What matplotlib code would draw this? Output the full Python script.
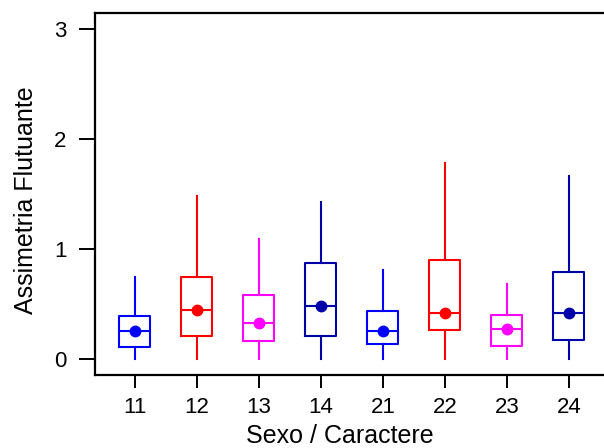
import matplotlib.pyplot as plt
import numpy as np

plt.rcParams['font.family'] = ['Liberation Sans', 'DejaVu Sans']

# grupos (sexo / caractere) e estatisticas
grupos = ['11', '12', '13', '14', '21', '22', '23', '24']
w_low = [0.0, 0.0, 0.0, 0.0, 0.0, 0.0, 0.0, 0.0]
q1 = [0.106, 0.212, 0.164, 0.212, 0.136, 0.267, 0.118, 0.176]
mediana = [0.255, 0.449, 0.330, 0.479, 0.255, 0.418, 0.270, 0.418]
q3 = [0.394, 0.745, 0.582, 0.876, 0.433, 0.897, 0.403, 0.788]
w_high = [0.750, 1.485, 1.088, 1.424, 0.806, 1.779, 0.685, 1.667]
media = [0.255, 0.449, 0.330, 0.479, 0.255, 0.418, 0.270, 0.418]
cores = ['#0000FF', '#FF0000', '#FF00FF', '#0000AA',
         '#0000FF', '#FF0000', '#FF00FF', '#0000AA']

fig = plt.figure(figsize=(6.04, 4.48), dpi=100)
ax = fig.add_axes([95 / 604, 1 - 375 / 448, 1 - 95 / 604, (375 - 13) / 448])

stats = []
for i, g in enumerate(grupos):
    stats.append({'label': g, 'whislo': w_low[i], 'q1': q1[i], 'med': mediana[i],
                  'q3': q3[i], 'whishi': w_high[i], 'fliers': []})

pos = np.arange(1, len(grupos) + 1)
for i, s in enumerate(stats):
    c = cores[i]
    ax.bxp([s], positions=[pos[i]], widths=0.5, showcaps=False,
           boxprops=dict(color=c, linewidth=1.5),
           medianprops=dict(color=c, linewidth=1.5),
           whiskerprops=dict(color=c, linewidth=1.5))
    ax.plot(pos[i], media[i], 'o', color=c, markersize=7.5, zorder=5)

ax.set_xlim(0.355, 8.565)
ax.set_ylim(-0.145, 3.145)
ax.set_xticks(pos)
ax.set_xticklabels(grupos)
ax.set_yticks([0, 1, 2, 3])
ax.tick_params(axis='both', labelsize=16, width=1.4)
ax.tick_params(axis='x', length=9, pad=7)
ax.tick_params(axis='y', length=11.5, pad=9)

for sp in ['left', 'bottom', 'top']:
    ax.spines[sp].set_linewidth(1.6)
ax.spines['right'].set_visible(False)

ax.set_xlabel('Sexo / Caractere', fontsize=18)
ax.xaxis.set_label_coords(0.481, -0.135)
ax.set_ylabel('Assimetria Flutuante', fontsize=18)
ax.yaxis.set_label_coords(-0.112, 0.483)

plt.savefig('out.png', dpi=100)
